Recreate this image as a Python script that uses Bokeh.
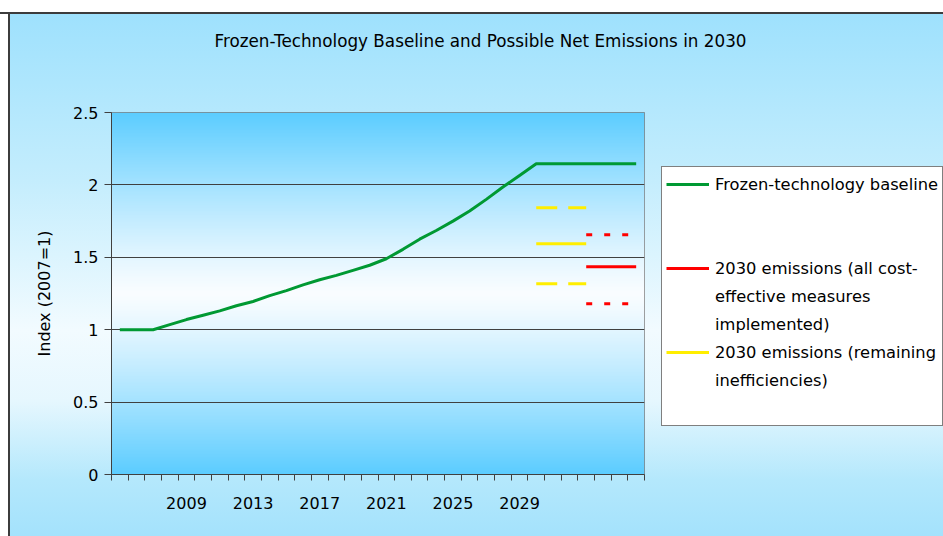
import numpy as np
from bokeh.plotting import figure
from bokeh.models import Range1d, FixedTicker, NumeralTickFormatter, Legend, LegendItem, Title
from bokeh.embed import file_html
from bokeh.resources import INLINE

# ---- data ----
years = list(range(2005, 2037))
baseline = [1.0, 1.0, 1.0, 1.035, 1.07, 1.10, 1.13, 1.165, 1.195, 1.235, 1.27, 1.31,
            1.345, 1.375, 1.41, 1.445, 1.49, 1.555, 1.625, 1.685, 1.75, 1.82, 1.90,
            1.985, 2.065, 2.146, 2.146, 2.146, 2.146, 2.146, 2.146, 2.146]
label_years = [2009, 2013, 2017, 2021, 2025, 2029]
y_ticks = [0, 0.5, 1, 1.5, 2, 2.5]

yellow_years = [2030, 2033]
yellow_mid = 1.593
yellow_high = 1.842
yellow_low = 1.317

red_years = [2033, 2036]
red_mid = 1.434
red_high = 1.655
red_low = 1.179

title_text = "Frozen-Technology Baseline and Possible Net Emissions in 2030"
y_label = "Index (2007=1)"
green_label = ["Frozen-technology baseline"]
red_label = ["2030 emissions (all cost-", "effective measures", "implemented)"]
yellow_label = ["2030 emissions (remaining", "inefficiencies)"]

FONT = "DejaVu Sans"
GREEN = "#009933"
RED = "#ff0000"
YELLOW = "#ffee00"

x0, x1 = years[0] - 0.5, years[-1] + 0.5
p = figure(frame_width=533, frame_height=362, output_backend="svg", toolbar_location=None,
           x_range=Range1d(x0, x1), y_range=Range1d(0, 2.5),
           min_border_left=111, min_border_right=299, min_border_top=112, min_border_bottom=62)
p.border_fill_alpha = 0
p.background_fill_alpha = 0
p.styles = {
    "background": (
        "linear-gradient(to bottom, #ffffff 0px, #ffffff 12px, #3c3c3c 12px, #3c3c3c 14px, rgba(0,0,0,0) 14px),"
        "linear-gradient(to right, #ffffff 0px, #ffffff 8px, #3c3c3c 8px, #3c3c3c 10px, rgba(0,0,0,0) 10px),"
        "linear-gradient(to bottom, #9ee1fd 12px, #c4edfd 180px, #f2fbff 330px, #e6f7fe 400px, #b4e8fc 480px, #a4e2fc 536px)"
    )
}

# plot-area gradient (blue - white - blue)
n = 256
t = np.linspace(0.0, 1.0, n)
f = (np.abs(t - 0.5) * 2.0) ** 1.2
edge = np.array([92.0, 205.0, 255.0])
mid = np.array([250.0, 253.0, 255.0])
rgb = mid[None, :] + (edge - mid)[None, :] * f[:, None]
img = np.empty((n, 1), dtype=np.uint32)
view = img.view(dtype=np.uint8).reshape((n, 1, 4))
view[:, 0, 0] = rgb[:, 0].astype(np.uint8)
view[:, 0, 1] = rgb[:, 1].astype(np.uint8)
view[:, 0, 2] = rgb[:, 2].astype(np.uint8)
view[:, 0, 3] = 255
p.image_rgba(image=[img], x=x0, y=0, dw=x1 - x0, dh=2.5, level="image")

p.outline_line_color = "#808080"
p.outline_line_width = 1

# title, with an empty spacer title between it and the frame
p.title.text = title_text
p.title.align = "left"
p.title.offset = 103
p.title.standoff = 10
p.title.text_font = FONT
p.title.text_font_size = "16.8px"
p.title.text_font_style = "normal"
p.title.text_color = "black"
p.add_layout(Title(text=" ", standoff=35, text_font=FONT, text_font_size="16.8px"), "above")

p.xgrid.visible = False
p.ygrid.grid_line_color = "#404040"
p.ygrid.grid_line_width = 1

# y axis
p.yaxis.ticker = FixedTicker(ticks=y_ticks)
p.yaxis.formatter = NumeralTickFormatter(format="0.[0]")
p.yaxis.major_tick_out = 7
p.yaxis.major_tick_in = 0
p.yaxis.minor_tick_out = 0
p.yaxis.minor_tick_in = 0
p.yaxis.axis_line_color = "#404040"
p.yaxis.major_tick_line_color = "#404040"
p.yaxis.major_label_standoff = 6
p.yaxis.major_label_text_font = FONT
p.yaxis.major_label_text_font_size = "16px"
p.yaxis.major_label_text_color = "black"
p.yaxis.axis_label = y_label
p.yaxis.axis_label_text_font = FONT
p.yaxis.axis_label_text_font_size = "16px"
p.yaxis.axis_label_text_font_style = "normal"
p.yaxis.axis_label_text_color = "black"
p.yaxis.axis_label_standoff = 16

# x axis
p.xaxis.ticker = FixedTicker(ticks=label_years,
                             minor_ticks=[yr - 0.5 for yr in years] + [years[-1] + 0.5])
p.xaxis.major_tick_out = 0
p.xaxis.major_tick_in = 0
p.xaxis.minor_tick_out = 6
p.xaxis.minor_tick_in = 0
p.xaxis.axis_line_color = "#404040"
p.xaxis.minor_tick_line_color = "#404040"
p.xaxis.major_label_standoff = 16
p.xaxis.major_label_text_font = FONT
p.xaxis.major_label_text_font_size = "16px"
p.xaxis.major_label_text_color = "black"

# series
g = p.line(years, baseline, line_color=GREEN, line_width=3, line_join="round")
ys = p.line(yellow_years, [yellow_mid] * 2, line_color=YELLOW, line_width=3)
p.line(yellow_years, [yellow_high] * 2, line_color=YELLOW, line_width=3, line_dash="21 11")
p.line(yellow_years, [yellow_low] * 2, line_color=YELLOW, line_width=3, line_dash="21 11")
rs = p.line(red_years, [red_mid] * 2, line_color=RED, line_width=3)
p.line(red_years, [red_high] * 2, line_color=RED, line_width=3, line_dash="6 12")
p.line(red_years, [red_low] * 2, line_color=RED, line_width=3, line_dash="6 12")

# invisible renderer used for continuation lines of wrapped legend labels
blank = p.line(x=[], y=[], line_alpha=0)

items = [LegendItem(label=green_label[0], renderers=[g]),
         LegendItem(label=" ", renderers=[blank]),
         LegendItem(label="  ", renderers=[blank]),
         LegendItem(label=red_label[0], renderers=[rs])]
items += [LegendItem(label=s, renderers=[blank]) for s in red_label[1:]]
items += [LegendItem(label=yellow_label[0], renderers=[ys])]
items += [LegendItem(label=s, renderers=[blank]) for s in yellow_label[1:]]
items += [LegendItem(label="   ", renderers=[blank])]

legend = Legend(items=items, location=(17, 48))
legend.border_line_color = "black"
legend.border_line_width = 1
legend.background_fill_color = "white"
legend.background_fill_alpha = 1
legend.padding = 4
legend.spacing = 2
legend.margin = 0
legend.glyph_width = 43
legend.glyph_height = 20
legend.label_height = 26
legend.label_standoff = 6
legend.label_text_font = FONT
legend.label_text_font_size = "16.3px"
legend.label_text_color = "black"
p.add_layout(legend, "right")

open("out.html", "w").write(file_html(p, INLINE))
